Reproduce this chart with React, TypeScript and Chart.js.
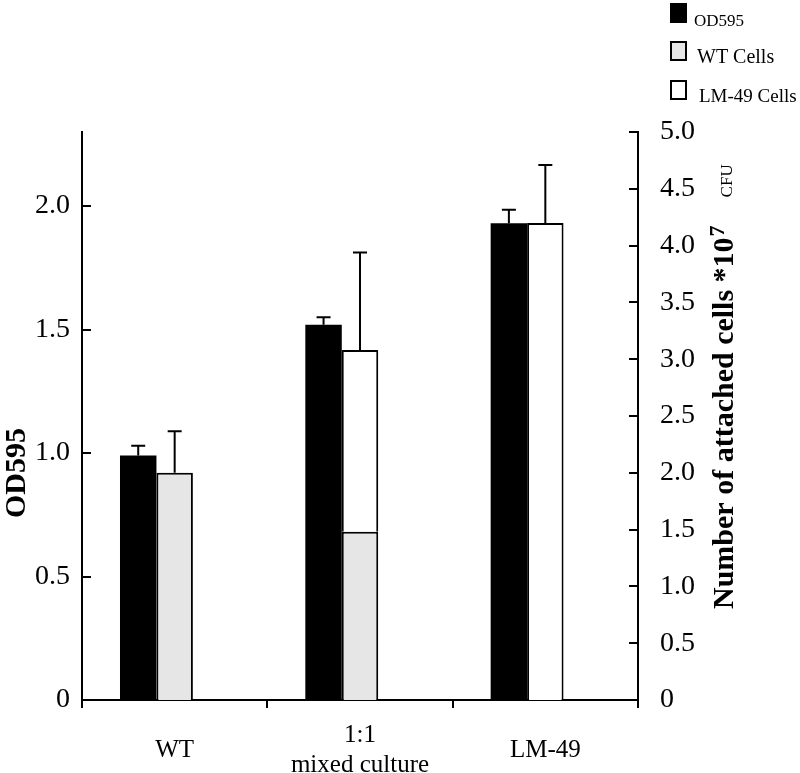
import React, { useEffect, useRef } from 'react';
import { Chart, registerables } from 'chart.js';

Chart.register(...registerables);

const FONT = "'Liberation Serif', 'Times New Roman', serif";

const categories: (string | string[])[] = ['WT', ['1:1', 'mixed culture'], 'LM-49'];
const od595 = [0.99, 1.52, 1.93];
const od595Err = [0.04, 0.03, 0.055];
const wtCells = [2.0, 1.48, null];
const wtCellsErr = [0.365, null, null];
const lmCells = [null, 1.6, 4.2];
const lmCellsErr = [null, 0.86, 0.51];
const leftTickValues = [0, 0.5, 1.0, 1.5, 2.0];
const rightTickValues = [0, 0.5, 1.0, 1.5, 2.0, 2.5, 3.0, 3.5, 4.0, 4.5, 5.0];
const legendLabels = ['OD595', 'WT Cells', 'LM-49 Cells'];
const leftTitle = 'OD595';
const rightTitleMain = 'Number of attached cells *10';
const rightTitleSup = '7';
const rightTitleUnit = 'CFU';

const fmt = (v: number) => (v === 0 ? '0' : v.toFixed(1));

const errorBarPlugin = {
  id: 'errorBars',
  afterDatasetsDraw(chart: any) {
    const ctx = chart.ctx;
    chart.data.datasets.forEach((ds: any, di: number) => {
      if (!ds.errors) return;
      const meta = chart.getDatasetMeta(di);
      const scale = chart.scales[ds.yAxisID];
      meta.data.forEach((el: any, i: number) => {
        const err = ds.errors[i];
        if (err == null || err === 0 || ds.data[i] == null) return;
        const topVal = scale.getValueForPixel(el.y) + err;
        const yTop = scale.getPixelForValue(topVal);
        ctx.save();
        ctx.strokeStyle = '#000';
        ctx.lineWidth = 2;
        ctx.beginPath();
        ctx.moveTo(el.x, el.y);
        ctx.lineTo(el.x, yTop);
        ctx.moveTo(el.x - 7, yTop);
        ctx.lineTo(el.x + 7, yTop);
        ctx.stroke();
        ctx.restore();
      });
    });
  },
};

const innerTicksPlugin = {
  id: 'innerTicks',
  afterDraw(chart: any) {
    const ctx = chart.ctx;
    const area = chart.chartArea;
    ctx.save();
    ctx.strokeStyle = '#000';
    ctx.lineWidth = 2;
    ['y', 'y2'].forEach((id) => {
      const s = chart.scales[id];
      const x0 = id === 'y' ? area.left : area.right;
      const dir = id === 'y' ? 1 : -1;
      s.ticks.forEach((t: any) => {
        const py = Math.round(s.getPixelForValue(t.value));
        ctx.beginPath();
        ctx.moveTo(x0, py);
        ctx.lineTo(x0 + dir * 9, py);
        ctx.stroke();
      });
    });
    ctx.restore();
  },
};

const annotationsPlugin = {
  id: 'annotations',
  afterDraw(chart: any) {
    const ctx = chart.ctx;
    ctx.save();
    ctx.fillStyle = '#000';
    // left title
    ctx.save();
    ctx.translate(25, 473);
    ctx.rotate(-Math.PI / 2);
    ctx.font = `bold 30px ${FONT}`;
    ctx.textAlign = 'center';
    ctx.textBaseline = 'alphabetic';
    ctx.fillText(leftTitle, 0, 0);
    ctx.restore();
    // right title
    ctx.save();
    ctx.translate(733, 0);
    ctx.rotate(-Math.PI / 2);
    ctx.textAlign = 'left';
    ctx.textBaseline = 'alphabetic';
    ctx.font = `bold 30px ${FONT}`;
    const start = -609;
    ctx.fillText(rightTitleMain, start, 0);
    const w = ctx.measureText(rightTitleMain).width;
    ctx.font = `bold 22px ${FONT}`;
    ctx.fillText(rightTitleSup, start + w + 1, -9);
    const w7 = ctx.measureText(rightTitleSup).width;
    ctx.font = `17px ${FONT}`;
    ctx.fillText(rightTitleUnit, start + w + 1 + w7 + 28, -1);
    ctx.restore();
    // legend
    const colors = chart.data.datasets.slice(0, 3).map((d: any) => d.backgroundColor);
    const boxY = [3, 41, 80];
    const textY = [26, 63, 102];
    const textX = [694, 697, 699];
    const sizes = [17, 20, 19];
    legendLabels.forEach((lab, i) => {
      ctx.fillStyle = colors[i];
      ctx.fillRect(670, boxY[i], 17, 20);
      if (i > 0) {
        ctx.strokeStyle = '#000';
        ctx.lineWidth = 2;
        ctx.strokeRect(671, boxY[i] + 1, 15, 18);
      }
      ctx.fillStyle = '#000';
      ctx.font = `${sizes[i]}px ${FONT}`;
      ctx.textAlign = 'left';
      ctx.textBaseline = 'alphabetic';
      ctx.fillText(lab, textX[i], textY[i]);
    });
    ctx.restore();
  },
};

export default function App() {
  const ref = useRef<HTMLCanvasElement | null>(null);
  useEffect(() => {
    if (!ref.current) return;
    const chart = new Chart(ref.current, {
      type: 'bar',
      data: {
        labels: categories as any,
        datasets: [
          {
            label: legendLabels[0],
            data: od595,
            errors: od595Err,
            backgroundColor: '#000000',
            borderWidth: 0,
            yAxisID: 'y',
            stack: 'a',
          } as any,
          {
            label: legendLabels[1],
            data: wtCells,
            errors: wtCellsErr,
            backgroundColor: '#e6e6e6',
            borderColor: '#000000',
            borderWidth: 2,
            yAxisID: 'y2',
            stack: 'b',
          } as any,
          {
            label: legendLabels[2],
            data: lmCells,
            errors: lmCellsErr,
            backgroundColor: '#ffffff',
            borderColor: '#000000',
            borderWidth: 2,
            yAxisID: 'y2',
            stack: 'b',
          } as any,
          {
            label: '',
            data: [null, null, null],
            yAxisID: 'y',
            stack: 'c',
          } as any,
        ],
      },
      options: {
        responsive: false,
        maintainAspectRatio: false,
        animation: false,
        layout: { padding: { top: 132, left: 0, right: 0, bottom: 0 } },
        datasets: { bar: { categoryPercentage: 0.59, barPercentage: 1 } },
        plugins: { legend: { display: false }, tooltip: { enabled: false } },
        scales: {
          x: {
            offset: true,
            grid: {
              display: true,
              drawOnChartArea: false,
              drawTicks: true,
              tickLength: 8,
              color: '#000',
              lineWidth: 2,
              offset: true,
            },
            border: { display: true, color: '#000', width: 2 },
            ticks: {
              color: '#000',
              font: { family: FONT, size: 25, lineHeight: 1.2 },
              padding: 27,
              maxRotation: 0,
              autoSkip: false,
              crossAlign: 'center',
            },
            afterFit: (s: any) => {
              s.height = 73;
            },
          },
          y: {
            position: 'left',
            min: 0,
            max: 2.3,
            grid: { display: false, drawTicks: false },
            border: { display: true, color: '#000', width: 2 },
            ticks: {
              color: '#000',
              font: { family: FONT, size: 28 },
              padding: 12,
              callback: (v: any) => fmt(Number(v)),
            },
            afterBuildTicks: (s: any) => {
              s.ticks = leftTickValues.map((v) => ({ value: v }));
            },
            afterFit: (s: any) => {
              s.width = 82;
            },
          },
          y2: {
            position: 'right',
            min: 0,
            max: 5,
            stacked: true,
            grid: { display: false, drawTicks: false },
            border: { display: true, color: '#000', width: 2 },
            ticks: {
              color: '#000',
              font: { family: FONT, size: 28 },
              padding: 22,
              callback: (v: any) => fmt(Number(v)),
            },
            afterBuildTicks: (s: any) => {
              s.ticks = rightTickValues.map((v) => ({ value: v }));
            },
            afterFit: (s: any) => {
              s.width = 162;
            },
          },
        },
      } as any,
      plugins: [errorBarPlugin, innerTicksPlugin, annotationsPlugin],
    });
    return () => chart.destroy();
  }, []);
  return (
    <div style={{ position: 'absolute', left: 0, top: 0, width: 800, height: 773, background: '#fff' }}>
      <canvas ref={ref} width={800} height={773} style={{ display: 'block' }} />
    </div>
  );
}
